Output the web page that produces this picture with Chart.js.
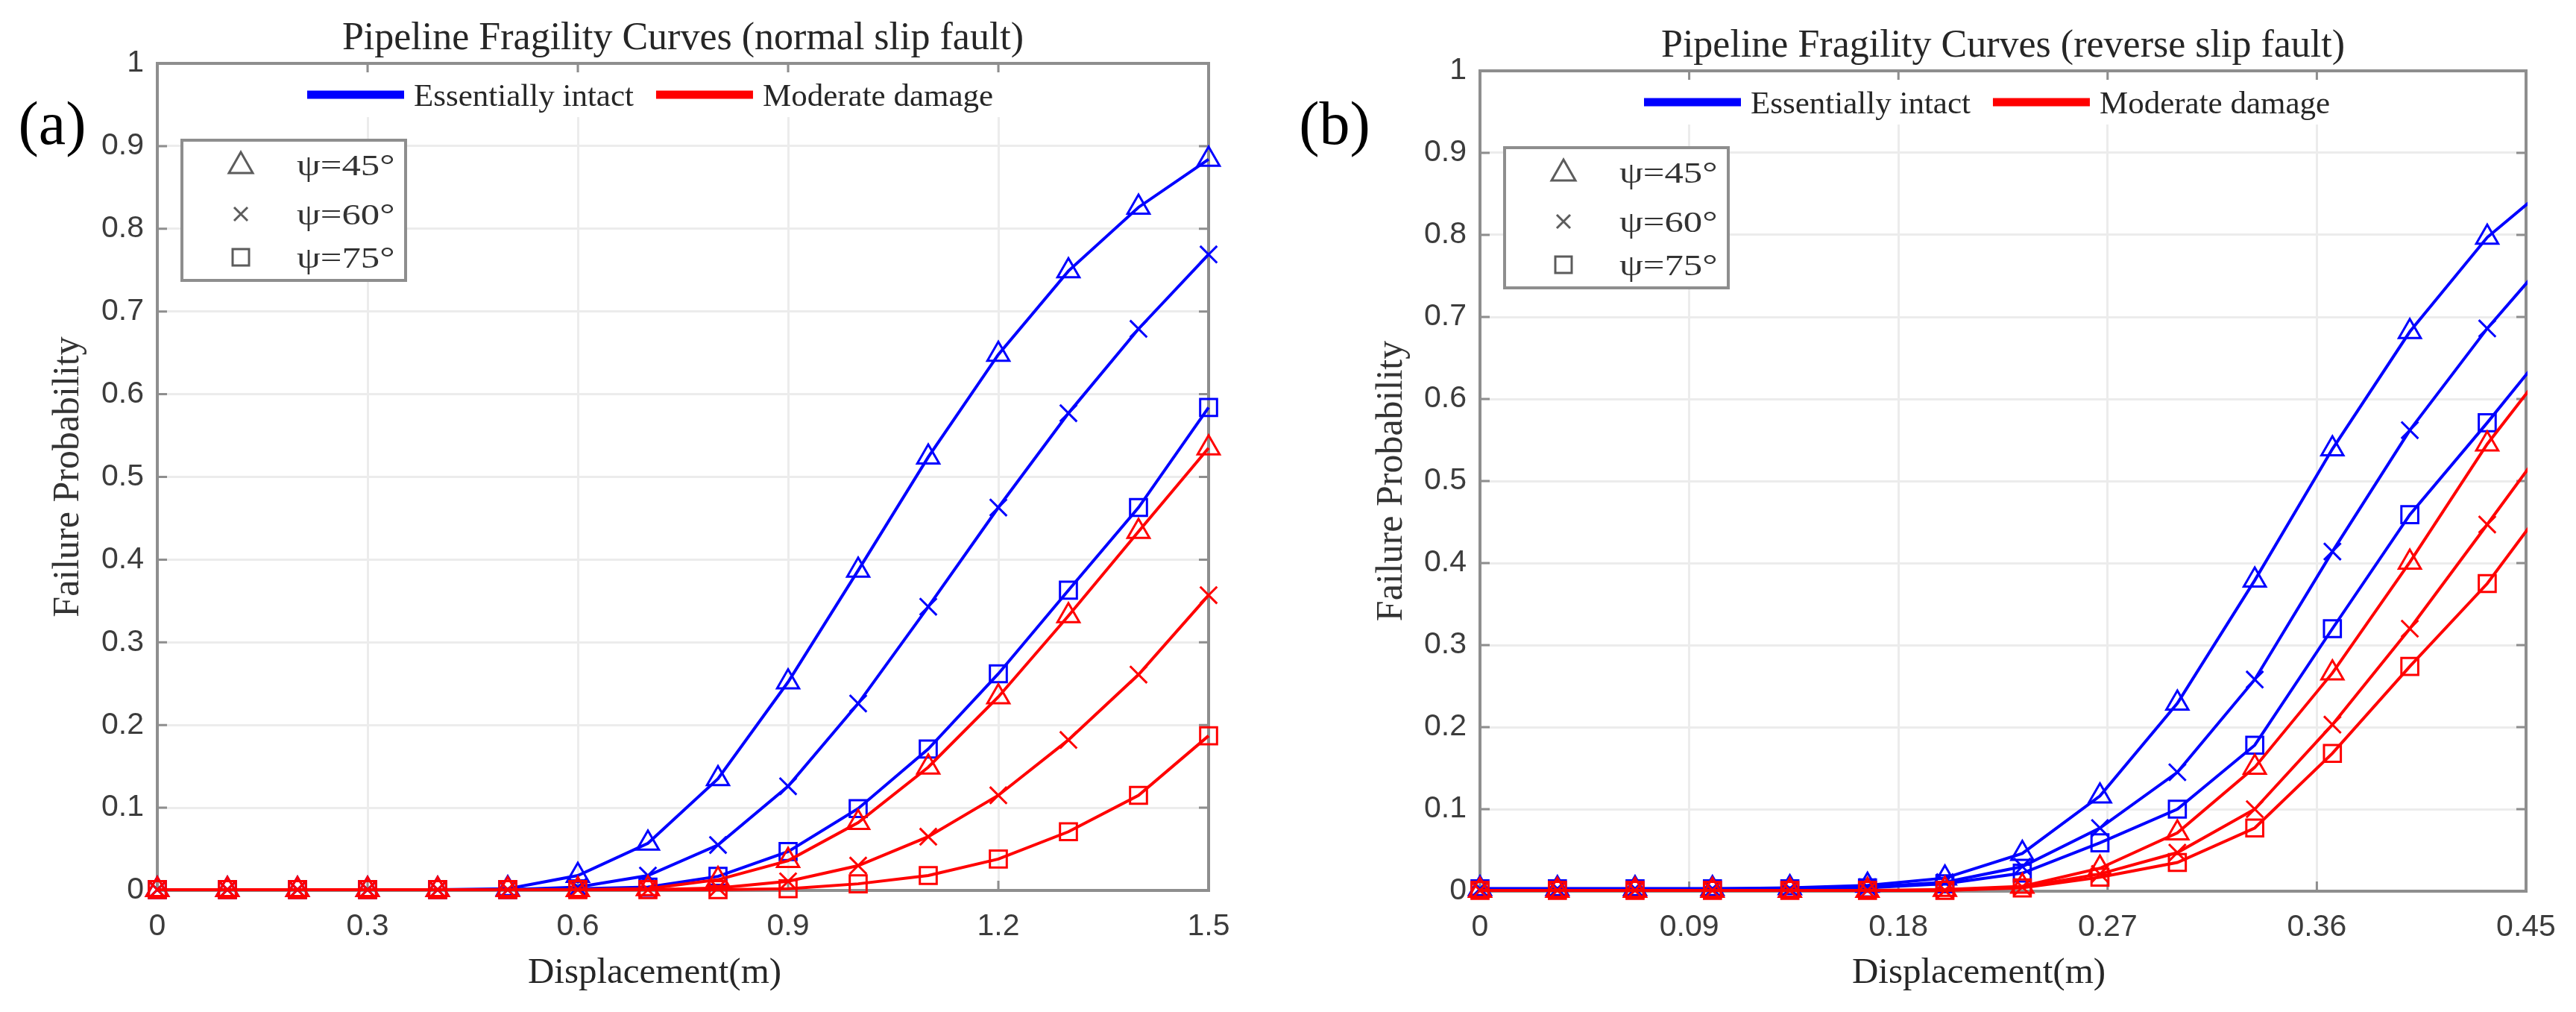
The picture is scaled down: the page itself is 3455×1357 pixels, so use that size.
<!DOCTYPE html>
<html>
<head>
<meta charset="utf-8">
<title>Pipeline Fragility Curves</title>
<script src="https://cdn.jsdelivr.net/npm/chart.js@4.4.1/dist/chart.umd.min.js"></script>
<style>
  html, body { margin: 0; padding: 0; background: #fff; }
  #wrap { position: relative; width: 3455px; height: 1357px; overflow: hidden; }
  canvas { position: absolute; top: 0; }
  #chartA { left: 0; }
  #chartB { left: 1728px; }
</style>
</head>
<body>
<div id="wrap">
  <canvas id="chartA" width="1728" height="1357"></canvas>
  <canvas id="chartB" width="1727" height="1357"></canvas>
</div>
<script>
'use strict';

// Series names and legend entries
const damageStates = ['Essentially intact', 'Moderate damage'];
const angleLabels = ['ψ=45°', 'ψ=60°', 'ψ=75°'];

// (a) normal slip fault, displacement in m
const dispA = [0, 0.1, 0.2, 0.3, 0.4, 0.5, 0.6, 0.7, 0.8, 0.9, 1.0, 1.1, 1.2, 1.3, 1.4, 1.5];
const intact45A = [0.001, 0.001, 0.001, 0.001, 0.001, 0.002, 0.018, 0.057, 0.135, 0.252, 0.387, 0.524, 0.648, 0.749, 0.826, 0.884];
const intact60A = [0.001, 0.001, 0.001, 0.001, 0.001, 0.001, 0.004, 0.018, 0.055, 0.126, 0.226, 0.343, 0.463, 0.577, 0.679, 0.769];
const intact75A = [0.001, 0.001, 0.001, 0.001, 0.001, 0.001, 0.002, 0.004, 0.017, 0.047, 0.099, 0.171, 0.262, 0.363, 0.463, 0.584];
const moderate45A = [0.001, 0.001, 0.001, 0.001, 0.001, 0.001, 0.001, 0.002, 0.013, 0.036, 0.082, 0.149, 0.234, 0.332, 0.434, 0.535];
const moderate60A = [0.001, 0.001, 0.001, 0.001, 0.001, 0.001, 0.001, 0.001, 0.003, 0.011, 0.030, 0.065, 0.115, 0.182, 0.261, 0.357];
const moderate75A = [0.001, 0.001, 0.001, 0.001, 0.001, 0.001, 0.001, 0.001, 0.001, 0.002, 0.008, 0.018, 0.038, 0.071, 0.115, 0.187];
const xTicksA = { max: 1.5, step: 0.3 };

// (b) reverse slip fault, last point lies past the axis limit and is clipped
const dispB = [0, 0.0333, 0.0667, 0.1, 0.1333, 0.1667, 0.2, 0.2333, 0.2667, 0.3, 0.3333, 0.3667, 0.4, 0.4333, 0.4667];
const intact45B = [0.003, 0.003, 0.003, 0.003, 0.004, 0.007, 0.016, 0.046, 0.116, 0.229, 0.379, 0.539, 0.682, 0.797, 0.876];
const intact60B = [0.003, 0.003, 0.003, 0.003, 0.003, 0.005, 0.011, 0.030, 0.077, 0.145, 0.258, 0.414, 0.562, 0.686, 0.795];
const intact75B = [0.003, 0.003, 0.003, 0.003, 0.003, 0.004, 0.009, 0.022, 0.059, 0.100, 0.178, 0.320, 0.459, 0.571, 0.688];
const moderate45B = [0.001, 0.001, 0.001, 0.001, 0.001, 0.001, 0.002, 0.006, 0.028, 0.071, 0.151, 0.266, 0.401, 0.545, 0.667];
const moderate60B = [0.001, 0.001, 0.001, 0.001, 0.001, 0.001, 0.001, 0.005, 0.021, 0.047, 0.100, 0.203, 0.320, 0.447, 0.576];
const moderate75B = [0.001, 0.001, 0.001, 0.001, 0.001, 0.001, 0.001, 0.004, 0.017, 0.035, 0.077, 0.168, 0.274, 0.375, 0.502];
const xTicksB = { max: 0.45, step: 0.09 };

const SERIF = '"Liberation Serif", "Times New Roman", serif';
const SANS = '"Liberation Sans", Arial, sans-serif';
const AXIS_GREY = '#8e8e8e';
const TEXT = '#262626';
const BLUE = '#0000ff';
const RED = '#ff0000';
const SHAPES = ['triangle', 'crossRot', 'rect'];

function toPoints(xs, ys) {
  return xs.map((x, i) => ({ x, y: ys[i] }));
}

// MATLAB style tick text: 1 not 1.0, 0.09 not 0.090
function tickText(value) {
  return String(Math.round(value * 1000) / 1000);
}

function makeDataset(label, xs, ys, color, shapeIdx, order, clip) {
  return {
    label,
    data: toPoints(xs, ys),
    borderColor: color,
    borderWidth: 4,
    pointStyle: SHAPES[shapeIdx],
    pointRadius: shapeIdx === 0 ? 17 : 16,
    pointBorderColor: color,
    pointBackgroundColor: 'rgba(0,0,0,0)',
    pointBorderWidth: 3,
    tension: 0,
    order,
    clip,
  };
}

// Small grey marker for the angle legend box
function drawMarker(ctx, shape, x, y) {
  ctx.beginPath();
  if (shape === 'triangle') {
    ctx.moveTo(x, y - 17);
    ctx.lineTo(x + 16, y + 11);
    ctx.lineTo(x - 16, y + 11);
    ctx.closePath();
  } else if (shape === 'crossRot') {
    ctx.moveTo(x - 9, y - 9); ctx.lineTo(x + 9, y + 9);
    ctx.moveTo(x + 9, y - 9); ctx.lineTo(x - 9, y + 9);
  } else {
    ctx.rect(x - 11, y - 11, 22, 22);
  }
  ctx.stroke();
}

// Box, inward ticks, legends, panel letter and x title (MATLAB look)
const decorPlugin = {
  id: 'decor',
  beforeDatasetsDraw(chart) {
    const { ctx, chartArea: a, scales } = chart;
    ctx.save();
    ctx.strokeStyle = AXIS_GREY;
    ctx.lineWidth = 4;
    ctx.beginPath();
    ctx.moveTo(a.left - 2, a.top);
    ctx.lineTo(a.right, a.top);
    ctx.lineTo(a.right, a.bottom + 2);
    ctx.stroke();
    ctx.lineWidth = 3;
    ctx.beginPath();
    scales.x.ticks.forEach(t => {
      const px = scales.x.getPixelForValue(t.value);
      ctx.moveTo(px, a.bottom); ctx.lineTo(px, a.bottom - 13);
      ctx.moveTo(px, a.top); ctx.lineTo(px, a.top + 13);
    });
    scales.y.ticks.forEach(t => {
      const py = scales.y.getPixelForValue(t.value);
      ctx.moveTo(a.left, py); ctx.lineTo(a.left + 13, py);
      ctx.moveTo(a.right, py); ctx.lineTo(a.right - 13, py);
    });
    ctx.stroke();
    ctx.restore();
  },
  afterDraw(chart, args, opts) {
    const { ctx, chartArea: a } = chart;
    ctx.save();

    // line-colour legend across the top of the plot
    ctx.font = '43px ' + SERIF;
    const colors = [BLUE, RED];
    const lx = a.left + opts.legendOffset;
    const ly = a.top + 42;
    let total = 0;
    damageStates.forEach(t => { total += 143 + ctx.measureText(t).width + 30; });
    ctx.fillStyle = '#fff';
    ctx.fillRect(lx - 12, ly - 30, total, 60);
    let cx = lx;
    damageStates.forEach((text, i) => {
      ctx.strokeStyle = colors[i];
      ctx.lineWidth = 11;
      ctx.beginPath();
      ctx.moveTo(cx, ly);
      ctx.lineTo(cx + 130, ly);
      ctx.stroke();
      cx += 143;
      ctx.fillStyle = TEXT;
      ctx.textAlign = 'left';
      ctx.textBaseline = 'alphabetic';
      ctx.fillText(text, cx, ly + 15);
      cx += ctx.measureText(text).width + 30;
    });

    // marker legend box
    const bx = a.left + 33, by = a.top + 103, bw = 300, bh = 188;
    ctx.fillStyle = '#fff';
    ctx.fillRect(bx, by, bw, bh);
    ctx.strokeStyle = AXIS_GREY;
    ctx.lineWidth = 4;
    ctx.strokeRect(bx, by, bw, bh);
    const rows = [33, 99, 157];
    angleLabels.forEach((label, i) => {
      ctx.strokeStyle = '#5c5c5c';
      ctx.lineWidth = 3;
      drawMarker(ctx, SHAPES[i], bx + 79, by + rows[i]);
      ctx.save();
      ctx.translate(bx + 154, by + rows[i] + 14);
      ctx.scale(1.27, 1);
      ctx.font = '40px ' + SERIF;
      ctx.fillStyle = '#333';
      ctx.textAlign = 'left';
      ctx.textBaseline = 'alphabetic';
      ctx.fillText(label, 0, 0);
      ctx.restore();
    });

    // x axis title and panel letter
    ctx.fillStyle = TEXT;
    ctx.textAlign = 'center';
    ctx.textBaseline = 'alphabetic';
    ctx.font = '49px ' + SERIF;
    ctx.fillText('Displacement(m)', opts.xTitleX, 1318);
    ctx.fillStyle = '#000';
    ctx.font = '82px ' + SERIF;
    ctx.fillText(opts.panel, opts.panelX, 193);
    ctx.restore();
  },
};

function buildChart(id, cfg) {
  const clip = { left: 30, top: 30, right: cfg.clipRight, bottom: 30 };
  const datasets = [
    makeDataset(damageStates[0] + ' ' + angleLabels[0], cfg.xs, cfg.intact[0], BLUE, 0, 1, clip),
    makeDataset(damageStates[0] + ' ' + angleLabels[1], cfg.xs, cfg.intact[1], BLUE, 1, 1, clip),
    makeDataset(damageStates[0] + ' ' + angleLabels[2], cfg.xs, cfg.intact[2], BLUE, 2, 1, clip),
    makeDataset(damageStates[1] + ' ' + angleLabels[0], cfg.xs, cfg.moderate[0], RED, 0, 0, clip),
    makeDataset(damageStates[1] + ' ' + angleLabels[1], cfg.xs, cfg.moderate[1], RED, 1, 0, clip),
    makeDataset(damageStates[1] + ' ' + angleLabels[2], cfg.xs, cfg.moderate[2], RED, 2, 0, clip),
  ];
  const grid = { color: '#ececec', lineWidth: 3, drawTicks: false };
  const border = { display: true, color: AXIS_GREY, width: 4 };
  return new Chart(document.getElementById(id), {
    type: 'line',
    data: { datasets },
    plugins: [decorPlugin],
    options: {
      responsive: false,
      animation: false,
      devicePixelRatio: 1,
      events: [],
      layout: { padding: { left: 0, top: 0, right: cfg.padRight, bottom: 0 } },
      plugins: {
        legend: { display: false },
        tooltip: { enabled: false },
        title: {
          display: true,
          text: cfg.title,
          fullSize: false,
          color: TEXT,
          font: { family: SERIF, size: 52, weight: 'normal', lineHeight: 1.2 },
          padding: { top: cfg.titleTop, bottom: 1.6 },
        },
        decor: {
          legendOffset: cfg.legendOffset,
          xTitleX: cfg.xTitleX,
          panel: cfg.panel,
          panelX: cfg.panelX,
        },
      },
      scales: {
        x: {
          type: 'linear',
          min: 0,
          max: cfg.ticks.max,
          grid,
          border,
          ticks: {
            stepSize: cfg.ticks.step,
            autoSkip: false,
            maxRotation: 0,
            padding: 24,
            color: '#3c3c3c',
            font: { family: SANS, size: 41 },
            callback: tickText,
          },
          afterFit: s => { s.height = cfg.xAxisHeight; },
        },
        y: {
          type: 'linear',
          min: 0,
          max: 1,
          grid,
          border,
          ticks: {
            stepSize: 0.1,
            padding: 18,
            color: '#3c3c3c',
            font: { family: SANS, size: 41 },
            callback: tickText,
          },
          title: {
            display: true,
            text: 'Failure Probability',
            color: '#333',
            font: { family: SERIF, size: 50, lineHeight: 1.2 },
            padding: { top: cfg.yTitlePad, bottom: 0 },
          },
          afterFit: s => { s.width = cfg.yAxisWidth; },
        },
      },
    },
  });
}

buildChart('chartA', {
  title: 'Pipeline Fragility Curves (normal slip fault)',
  xs: dispA,
  intact: [intact45A, intact60A, intact75A],
  moderate: [moderate45A, moderate60A, moderate75A],
  ticks: xTicksA,
  clipRight: 30,
  padRight: 107,
  titleTop: 21,
  yAxisWidth: 211,
  xAxisHeight: 163,
  yTitlePad: 62,
  legendOffset: 201,
  xTitleX: 878,
  panel: '(a)',
  panelX: 70,
});

buildChart('chartB', {
  title: 'Pipeline Fragility Curves (reverse slip fault)',
  xs: dispB,
  intact: [intact45B, intact60B, intact75B],
  moderate: [moderate45B, moderate60B, moderate75B],
  ticks: xTicksB,
  clipRight: 2,
  padRight: 67,
  titleTop: 31,
  yAxisWidth: 257,
  xAxisHeight: 162,
  yTitlePad: 109,
  legendOffset: 220,
  xTitleX: 926,
  panel: '(b)',
  panelX: 62,
});
</script>
</body>
</html>
